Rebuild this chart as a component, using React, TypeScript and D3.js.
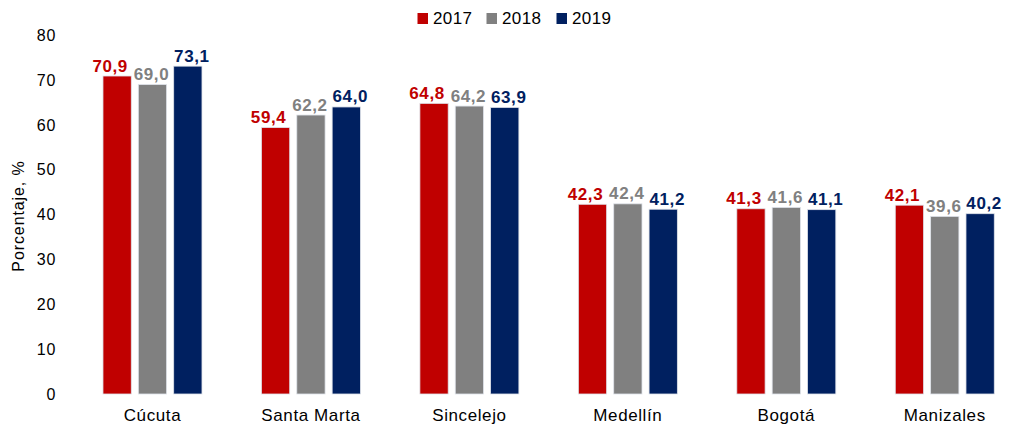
import React from "react";
import * as d3 from "d3";

const categories = ["Cúcuta", "Santa Marta", "Sincelejo", "Medellín", "Bogotá", "Manizales"];
const seriesNames = ["2017", "2018", "2019"];
const values2017 = [70.9, 59.4, 64.8, 42.3, 41.3, 42.1];
const values2018 = [69.0, 62.2, 64.2, 42.4, 41.6, 39.6];
const values2019 = [73.1, 64.0, 63.9, 41.2, 41.1, 40.2];
const yTicks = [0, 10, 20, 30, 40, 50, 60, 70, 80];

const colors = ["#C00000", "#808080", "#002060"];
const labelDx = [-7, -1, 4];

export default function App() {
  const W = 1016;
  const H = 426;
  const series = [values2017, values2018, values2019];

  const x0 = d3.scaleBand<string>().domain(categories).range([73.25, 1024]).paddingInner(0).paddingOuter(0);
  const x1 = d3.scaleBand<string>().domain(seriesNames).range([0, 99]).paddingInner(0.2).paddingOuter(0);
  const groupOffset = (x0.bandwidth() - 99) / 2;
  const y = d3.scaleLinear().domain([0, 80]).range([394, 35.2]);
  const fmt = (v: number) => v.toFixed(1).replace(".", ",");
  const font = "Arial, 'Liberation Sans', sans-serif";

  const legendX = [417.5, 486.5, 556.5];

  return (
    <svg width={W} height={H} style={{ position: "absolute", left: 0, top: 0, fontFamily: font }}>
      <rect width={W} height={H} fill="#fff" />
      {yTicks.map((t) => (
        <text key={t} x={56} y={y(t)} dy="0.35em" textAnchor="end" fontSize={16} letterSpacing={0.7} fill="#000">
          {t}
        </text>
      ))}
      <text
        transform={`translate(24,216) rotate(-90)`}
        textAnchor="middle"
        fontSize={16}
        letterSpacing={0.9}
        fill="#000"
      >
        Porcentaje, %
      </text>
      {categories.map((c, ci) => (
        <g key={c} transform={`translate(${(x0(c) as number) + groupOffset},0)`}>
          {seriesNames.map((s, si) => {
            const v = series[si][ci];
            const bx = x1(s) as number;
            const bw = x1.bandwidth();
            return (
              <g key={s}>
                <rect
                  x={bx}
                  y={y(v)}
                  width={bw}
                  height={y(0) - y(v)}
                  fill={colors[si]}
                  stroke="#dfe3ea"
                  strokeWidth={0.8}
                />
                <text
                  x={bx + bw / 2 + labelDx[si]}
                  y={y(v) - 4.5}
                  textAnchor="middle"
                  fontSize={17}
                  fontWeight="bold"
                  letterSpacing={0.6}
                  fill={colors[si]}
                >
                  {fmt(v)}
                </text>
              </g>
            );
          })}
        </g>
      ))}
      {categories.map((c) => (
        <text
          key={c}
          x={(x0(c) as number) + x0.bandwidth() / 2}
          y={415}
          dy="0.35em"
          textAnchor="middle"
          fontSize={17}
          letterSpacing={0.6}
          fill="#000"
        >
          {c}
        </text>
      ))}
      {seriesNames.map((s, si) => (
        <g key={s}>
          <rect x={legendX[si]} y={13} width={10.5} height={11} fill={colors[si]} />
          <text x={legendX[si] + 15.5} y={18.5} dy="0.35em" fontSize={17} letterSpacing={0.4} fill="#000">
            {s}
          </text>
        </g>
      ))}
    </svg>
  );
}
